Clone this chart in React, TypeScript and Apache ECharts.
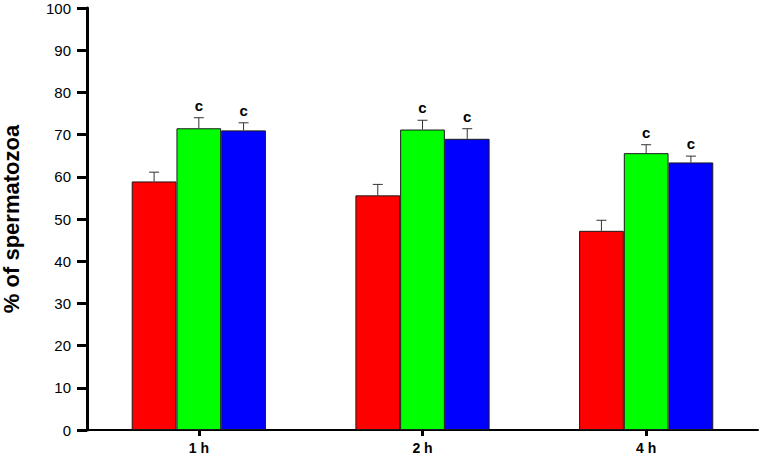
import React, { useEffect, useRef } from "react";
import * as echarts from "echarts";

const categories = ["1 h", "2 h", "4 h"];
const seriesNames = ["Red", "Green", "Blue"];
const seriesColors = ["#ff0000", "#00ff00", "#0000ff"];
const redValues = [58.9, 55.6, 47.2];
const greenValues = [71.5, 71.2, 65.6];
const blueValues = [71.0, 69.0, 63.4];
const redErrors = [2.2, 2.6, 2.5];
const greenErrors = [2.5, 2.2, 2.0];
const blueErrors = [1.8, 2.4, 1.5];
const greenMarks = ["c", "c", "c"];
const blueMarks = ["c", "c", "c"];
const redMarks = ["", "", ""];

const allValues = [redValues, greenValues, blueValues];
const allErrors = [redErrors, greenErrors, blueErrors];
const allMarks = [redMarks, greenMarks, blueMarks];

const BAR_FRACTION = 0.2;

export default function App() {
  const ref = useRef<HTMLDivElement>(null);
  useEffect(() => {
    document.body.style.margin = "0";
    if (!ref.current) return;
    const chart = echarts.init(ref.current, null, { renderer: "svg" });
    const font = "'Liberation Sans', Arial, sans-serif";

    const barSeries = allValues.map((vals, i) => ({
      name: seriesNames[i],
      type: "bar",
      data: vals,
      barWidth: "20%",
      barGap: "0%",
      itemStyle: { color: seriesColors[i], borderColor: "#1a1a1a", borderWidth: 1 },
      z: 2,
    }));

    const errSeries = allValues.map((vals, i) => ({
      name: seriesNames[i] + " err",
      type: "custom",
      data: vals.map((v, j) => [j, v, allErrors[i][j]]),
      z: 3,
      renderItem: (params: any, api: any) => {
        const cat = api.value(0);
        const v = api.value(1);
        const e = api.value(2);
        const band = api.size([1, 0])[0];
        const bw = band * BAR_FRACTION;
        const base = api.coord([cat, v]);
        const top = api.coord([cat, v + e]);
        const x = base[0] + (i - 1) * bw;
        const mark = allMarks[i][params.dataIndex];
        const children: any[] = [
          {
            type: "line",
            shape: { x1: x, y1: base[1], x2: x, y2: top[1] },
            style: { stroke: "#333", lineWidth: 1 },
          },
          {
            type: "line",
            shape: { x1: x - 5, y1: top[1], x2: x + 5, y2: top[1] },
            style: { stroke: "#333", lineWidth: 1 },
          },
        ];
        if (mark) {
          children.push({
            type: "text",
            style: {
              text: mark,
              x: x,
              y: top[1] - 5,
              textAlign: "center",
              textVerticalAlign: "bottom",
              fontFamily: font,
              fontWeight: "bold",
              fontSize: 15,
              fill: "#000",
            },
          });
        }
        return { type: "group", children };
      },
    }));

    chart.setOption({
      animation: false,
      backgroundColor: "#fff",
      grid: { left: 87, right: 3, top: 8, bottom: 27, containLabel: false, outerBoundsMode: "none" },
      xAxis: {
        type: "category",
        data: categories,
        axisLine: { lineStyle: { color: "#000", width: 2 } },
        axisTick: { show: true, alignWithLabel: true, length: 6, lineStyle: { color: "#000", width: 3 } },
        axisLabel: { color: "#000", fontFamily: font, fontWeight: "bold", fontSize: 14, margin: 11 },
      },
      yAxis: {
        type: "value",
        min: 0,
        max: 100,
        interval: 10,
        name: "% of spermatozoa",
        nameLocation: "middle",
        nameGap: 65,
        nameTextStyle: { color: "#000", fontFamily: font, fontWeight: "bold", fontSize: 22 },
        splitLine: { show: false },
        axisLine: { show: true, lineStyle: { color: "#000", width: 3 } },
        axisTick: { show: true, length: 10, lineStyle: { color: "#000", width: 3 } },
        axisLabel: { color: "#000", fontFamily: font, fontSize: 15, margin: 16 },
      },
      series: [...barSeries, ...errSeries],
    });
    return () => chart.dispose();
  }, []);
  return <div ref={ref} style={{ width: 761, height: 457 }} />;
}
